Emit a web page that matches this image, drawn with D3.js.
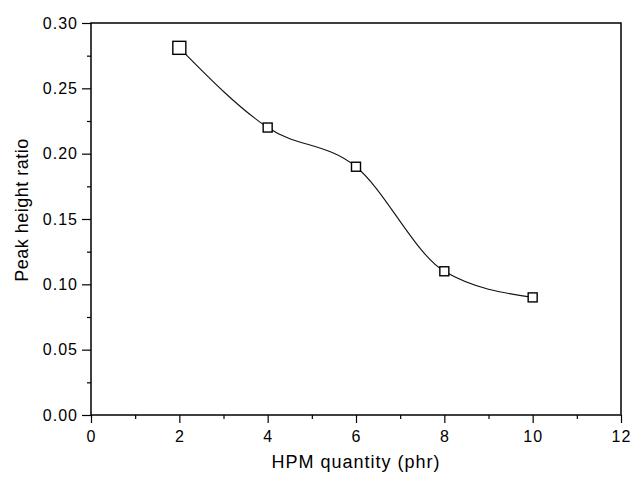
<!DOCTYPE html>
<html><head><meta charset="utf-8">
<script src="https://cdn.jsdelivr.net/npm/d3@7"></script>
<style>body{margin:0;background:#fff}svg{display:block}text{font-family:"Liberation Sans",Arial,sans-serif;fill:#000}</style>
</head><body>
<script>
const quantities = [2, 4, 6, 8, 10];
const ratios = [0.281, 0.22, 0.19, 0.11, 0.09];
const markerSizes = [13, 9, 9, 9, 9];
const xTicks = [0, 2, 4, 6, 8, 10, 12];
const yTicks = [0.00, 0.05, 0.10, 0.15, 0.20, 0.25, 0.30];
const xLabel = "HPM quantity (phr)";
const yLabel = "Peak height ratio";

const W = 632, H = 482;
const m = {left: 91, right: 11, top: 23, bottom: 67};
const svg = d3.select("body").append("svg").attr("width", W).attr("height", H);
const x = d3.scaleLinear().domain([0, 12]).range([m.left, W - m.right]);
const y = d3.scaleLinear().domain([0, 0.30]).range([H - m.bottom, m.top]);

// minor ticks
const xMinor = d3.range(1, 12, 2);
const yMinor = d3.range(0.025, 0.30, 0.05);
svg.append("g").attr("transform", `translate(0,${H - m.bottom})`)
  .call(d3.axisBottom(x).tickValues(xMinor).tickSize(4).tickFormat(""))
  .call(g => g.select(".domain").remove());
svg.append("g").attr("transform", `translate(${m.left},0)`)
  .call(d3.axisLeft(y).tickValues(yMinor).tickSize(4).tickFormat(""))
  .call(g => g.select(".domain").remove());

const xa = svg.append("g").attr("transform", `translate(0,${H - m.bottom})`)
  .call(d3.axisBottom(x).tickValues(xTicks).tickSize(8).tickSizeOuter(0).tickPadding(8).tickFormat(d3.format("d")));
xa.selectAll("text").attr("font-size", 16).attr("letter-spacing", 1);
const ya = svg.append("g").attr("transform", `translate(${m.left},0)`)
  .call(d3.axisLeft(y).tickValues(yTicks).tickSize(9).tickSizeOuter(0).tickPadding(4).tickFormat(d3.format(".2f")));
ya.selectAll("text").attr("font-size", 16).attr("letter-spacing", 1);
svg.selectAll(".tick line").attr("stroke", "#000").attr("stroke-width", 1.2);
svg.selectAll(".domain").remove();

// frame
svg.append("rect").attr("x", m.left).attr("y", m.top)
  .attr("width", W - m.left - m.right).attr("height", H - m.top - m.bottom)
  .attr("fill", "none").attr("stroke", "#000").attr("stroke-width", 1.5);

// curve
const pts = quantities.map((q, i) => [q, ratios[i]]);
svg.append("path").datum(pts)
  .attr("d", d3.line().x(d => x(d[0])).y(d => y(d[1])).curve(d3.curveMonotoneX))
  .attr("fill", "none").attr("stroke", "#111").attr("stroke-width", 1.1);

// markers
svg.selectAll("rect.mk").data(pts).enter().append("rect").attr("class", "mk")
  .attr("x", (d, i) => x(d[0]) - markerSizes[i] / 2)
  .attr("y", (d, i) => y(d[1]) - markerSizes[i] / 2)
  .attr("width", (d, i) => markerSizes[i]).attr("height", (d, i) => markerSizes[i])
  .attr("fill", "#fff").attr("stroke", "#000").attr("stroke-width", 1.4);

svg.append("text").attr("x", (m.left + W - m.right) / 2).attr("y", 468)
  .attr("text-anchor", "middle").attr("font-size", 18).attr("letter-spacing", 1).text(xLabel);
svg.append("text").attr("transform", `translate(28,210) rotate(-90)`)
  .attr("text-anchor", "middle").attr("font-size", 18).attr("letter-spacing", 0.5).text(yLabel);
</script>
</body></html>
